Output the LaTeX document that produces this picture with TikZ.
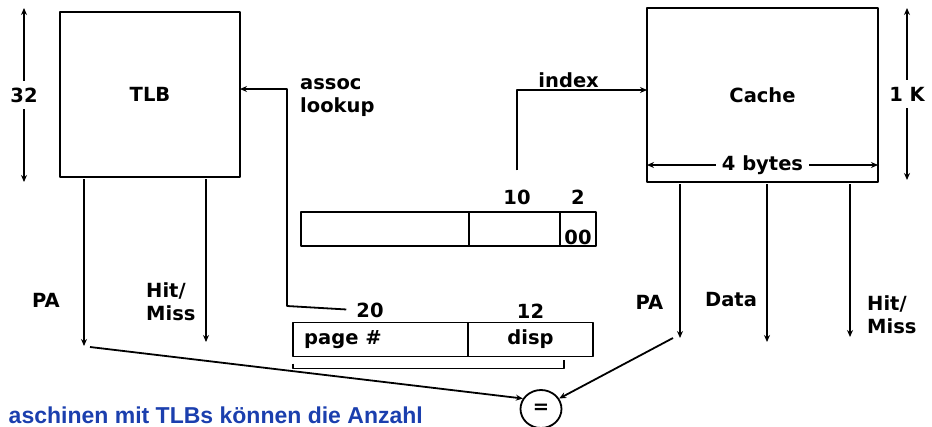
\documentclass[tikz,border=0pt]{standalone}
\usepackage{fontspec}
\setmainfont{DejaVu Sans}
\newfontfamily\notefont{Liberation Sans}
\usetikzlibrary{arrows.meta,positioning,shapes.geometric}
\definecolor{noteblue}{HTML}{1B3FAE}
\newcommand{\labelsize}{\fontsize{19.5}{23}\selectfont}
\tikzset{
  every picture/.style={
    line join=round,
    >={Stealth[length=7pt,width=6pt]},
  },
  wire/.style={line width=1.8pt},
  box/.style={draw, wire, inner sep=0pt, outer sep=0pt},
  field/.style={box, minimum height=34pt},
  lbl/.style={inner sep=1pt, font=\labelsize\bfseries},
}
\begin{document}
\begin{tikzpicture}[x=1pt,y=-1pt]
\useasboundingbox (0,0) rectangle (932,426);
\node[box,lbl,minimum width=180pt,minimum height=165pt] (tlb) at (150,94.5) {TLB};
\node[box,lbl,minimum width=231pt,minimum height=174pt] (cache) at (762.5,95) {Cache};
% address as the cache sees it
\node[field,minimum width=168pt] (ctag) at (385,229) {};
\node[field,minimum width=91pt,right=0pt of ctag] (cidx) {};
\node[field,minimum width=36pt,right=0pt of cidx] (coff) {};
\node[lbl,anchor=south] (zeros) at (coff.south) {00};
\node[lbl] (lbl10) at (517,197) {10};
\node[lbl] (lbl2) at (578,197) {2};
% address as the TLB sees it
\node[field,minimum width=175pt] (pagef) at (380.5,339.5) {};
\node[field,lbl,minimum width=125pt,right=0pt of pagef] (dispf) {disp};
\node[lbl,anchor=west] (pagel) at ([xshift=10pt]pagef.west) {page \#};
\node[lbl] (lbl20) at (370,310) {20};
\node[lbl,above=3pt of dispf] (lbl12) {12};
\draw[wire] ([yshift=-7pt]pagef.south west) -- ([yshift=-12pt]pagef.south west)
  -| ([xshift=33.5pt,yshift=-3pt]dispf.south);
% sizes
\coordinate (ttop) at (24,8);
\coordinate (tbot) at (24,182);
\draw[wire,<->] (ttop) -- (tbot) node[midway,lbl,fill=white,inner ysep=7pt] {32};
\coordinate (ctop) at (907,8);
\coordinate (cbot) at (907,180);
\draw[wire,<->] (ctop) -- (cbot) node[midway,lbl,fill=white,inner ysep=7pt] {1 K};
\draw[wire,<->] ([yshift=17pt]cache.south west) -- ([yshift=17pt]cache.south east)
  node[midway,lbl,fill=white,inner xsep=6pt] {4 bytes};
% lookup and index
\coordinate (lkbend) at (287,306);
\draw[wire,->,shorten <=9pt] (lbl20.west) -- (lkbend) |- ([yshift=5.5pt]tlb.east);
\node[lbl,align=left,anchor=north west] (assoc) at (299,77) {assoc\\lookup};
\draw[wire,->,shorten <=18pt] (lbl10.north) |- ([yshift=5pt]cache.west);
\node[lbl,anchor=base east] (idxl) at (600,87) {index};
% outputs
\coordinate (tlbpa) at (84,346);
\coordinate (tlbhit) at (206,342);
\draw[wire,->,shorten <=2pt] (tlb.south -| tlbpa) -- (tlbpa);
\draw[wire,->,shorten <=2pt] (tlb.south -| tlbhit) -- (tlbhit);
\node[lbl] (tpal) at (46,300) {PA};
\node[lbl,align=left,anchor=west] (thitl) at (145,302) {Hit/\\Miss};
\coordinate (cpa) at (680,338);
\coordinate (cdata) at (767,342);
\coordinate (chit) at (850,337);
\foreach \c in {cpa,cdata,chit}
  \draw[wire,->,shorten <=2pt] (cache.south -| \c) -- (\c);
\node[lbl] (cpal) at (649.5,302) {PA};
\node[lbl] (cdatal) at (731,300) {Data};
\node[lbl,align=left,anchor=west] (chitl) at (866,315) {Hit/\\Miss};
% compare
\node[draw,wire,ellipse,lbl,inner sep=0pt,minimum width=41pt,minimum height=38pt] (cmp) at (541,409) {=};
\draw[wire,->] ([xshift=6pt,yshift=-1pt]tlbpa) -- (cmp.150);
\draw[wire,->] ([xshift=-7pt]cpa) -- (cmp.30);
\coordinate (cmpout) at (543,440);
\draw[wire] (cmp.south) -- (cmpout);
\node[anchor=base east,inner sep=0pt,text=noteblue,font=\notefont\fontsize{23}{26}\selectfont\bfseries] (note) at (423,423) {aschinen mit TLBs können die Anzahl};
\end{tikzpicture}
\end{document}
